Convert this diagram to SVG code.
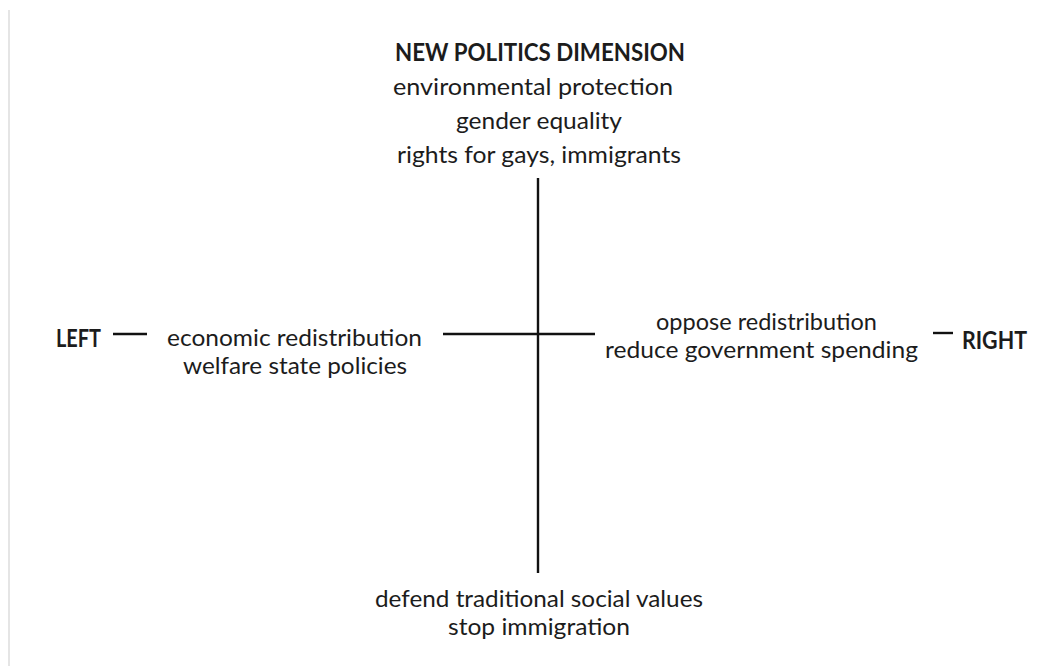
<svg xmlns="http://www.w3.org/2000/svg" width="1056" height="666" viewBox="0 0 1056 666">
  <style>
    .t { font-family: Lato, "Open Sans", "Liberation Sans", sans-serif; font-size: 24px; fill: #1c1c1c; }
    .b { font-weight: bold; font-size: 24px; }
    .lr { font-weight: bold; font-size: 25.5px; }
    .ax { stroke: #111; stroke-width: 2.4; fill: none; }
  </style>
  <rect width="1056" height="666" fill="#ffffff"/>
  <line x1="9" y1="10" x2="9" y2="666" stroke="#dcdcdc" stroke-width="1.5"/>

  <g id="connectors">
    <line class="ax" x1="538" y1="178" x2="538" y2="573"/>
    <line class="ax" x1="443" y1="334" x2="595" y2="334"/>
    <line class="ax" x1="113" y1="334" x2="147" y2="334"/>
    <line class="ax" x1="933" y1="333" x2="953" y2="333"/>
  </g>

  <g id="top">
    <text class="t b" x="395" y="61" textLength="290" lengthAdjust="spacingAndGlyphs">NEW POLITICS DIMENSION</text>
    <text class="t" x="393" y="95" textLength="280" lengthAdjust="spacingAndGlyphs">environmental protection</text>
    <text class="t" x="456" y="129" textLength="166" lengthAdjust="spacingAndGlyphs">gender equality</text>
    <text class="t" x="397" y="163" textLength="284" lengthAdjust="spacingAndGlyphs">rights for gays, immigrants</text>
  </g>

  <g id="left">
    <text class="t lr" x="56" y="347" textLength="45" lengthAdjust="spacingAndGlyphs">LEFT</text>
    <text class="t" x="167" y="346" textLength="255" lengthAdjust="spacingAndGlyphs">economic redistribution</text>
    <text class="t" x="183" y="374" textLength="224" lengthAdjust="spacingAndGlyphs">welfare state policies</text>
  </g>

  <g id="right">
    <text class="t" x="656" y="330" textLength="221" lengthAdjust="spacingAndGlyphs">oppose redistribution</text>
    <text class="t" x="605" y="358" textLength="313" lengthAdjust="spacingAndGlyphs">reduce government spending</text>
    <text class="t lr" x="962" y="349" textLength="65" lengthAdjust="spacingAndGlyphs">RIGHT</text>
  </g>

  <g id="bottom">
    <text class="t" x="375" y="607" textLength="328" lengthAdjust="spacingAndGlyphs">defend traditional social values</text>
    <text class="t" x="448" y="635" textLength="182" lengthAdjust="spacingAndGlyphs">stop immigration</text>
  </g>
</svg>
